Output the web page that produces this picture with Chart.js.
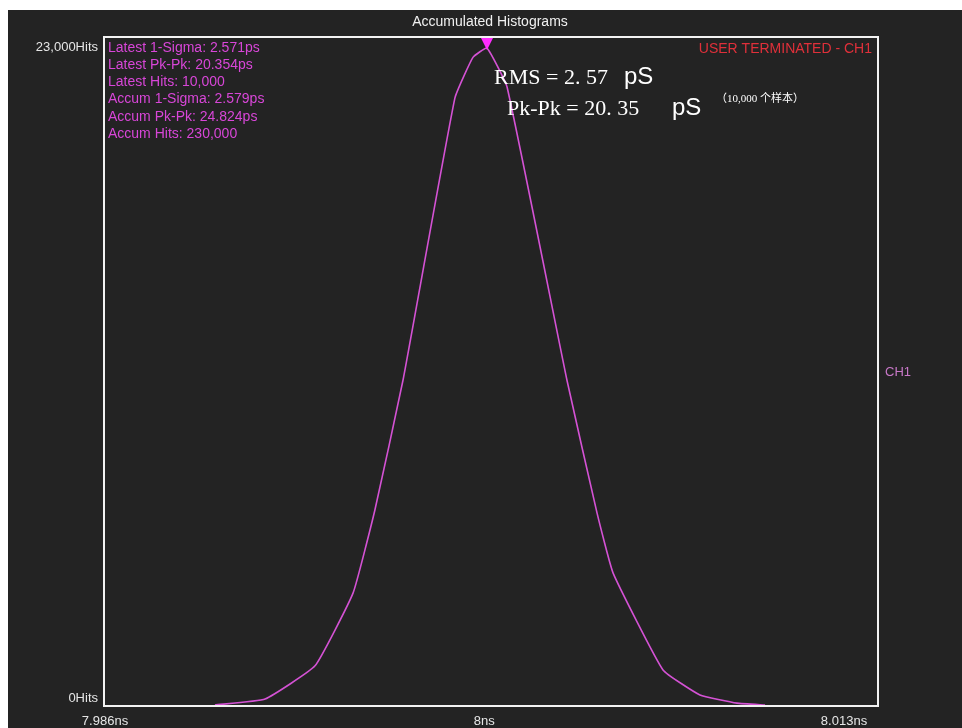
<!DOCTYPE html>
<html>
<head>
<meta charset="utf-8">
<script src="https://cdn.jsdelivr.net/npm/chart.js@4/dist/chart.umd.min.js"></script>
<style>
  html, body { margin: 0; padding: 0; background: #fff; }
  #wrap { width: 962px; height: 728px; position: relative; }
</style>
</head>
<body>
<div id="wrap"><canvas id="c"></canvas></div>
<script>
// histogram (time in ns, hits per bin)
const timeNs = [7.98987, 7.99162, 7.99336, 7.99469, 7.99545, 7.99643, 7.99824, 7.99887, 7.99936,
                8.00006, 8.00215, 8.00320, 8.00376, 8.00550, 8.00679, 8.00808, 8.00906];
const hits = [35, 240, 1380, 3890, 6740, 11200, 20900, 22300, 22620,
              21280, 11200, 6630, 4570, 1240, 380, 100, 35];

const xTickValues = [7.986, 8, 8.013];
const xTickLabels = ['7.986ns', '8ns', '8.013ns'];
const yTickValues = [0, 23000];
const yTickLabels = ['0Hits', '23,000Hits'];

const statLines = [
  'Latest 1-Sigma: 2.571ps',
  'Latest Pk-Pk: 20.354ps',
  'Latest Hits: 10,000',
  'Accum 1-Sigma: 2.579ps',
  'Accum Pk-Pk: 24.824ps',
  'Accum Hits: 230,000'
];

const BG = '#232323';
const SANS = "'Liberation Sans', Arial, sans-serif";
const SERIF = "'Liberation Serif', 'DejaVu Serif', serif";

// small nudges so the labels sit where the scope put them
const xLabelNudge = [1, -21, -34];
const yLabelNudge = [-8, 10];

const backdrop = {
  id: 'backdrop',
  beforeDraw(chart) {
    const ctx = chart.ctx;
    ctx.save();
    ctx.fillStyle = '#ffffff';
    ctx.fillRect(0, 0, chart.width, chart.height);
    ctx.fillStyle = BG;
    ctx.fillRect(8, 10, chart.width - 8, chart.height - 10);
    ctx.restore();
  }
};

const frame = {
  id: 'frame',
  afterDraw(chart) {
    const ctx = chart.ctx;
    const a = chart.chartArea;
    const xs = chart.scales.x, ys = chart.scales.y;
    ctx.save();
    ctx.strokeStyle = '#f2f2f2';
    ctx.lineWidth = 2;
    ctx.strokeRect(a.left, a.top, a.right - a.left, a.bottom - a.top);

    // tick labels
    ctx.fillStyle = '#e6e6e6';
    ctx.font = '13px ' + SANS;
    ctx.textBaseline = 'middle';
    ctx.textAlign = 'center';
    xTickValues.forEach((v, i) => {
      ctx.fillText(xTickLabels[i], xs.getPixelForValue(v) + xLabelNudge[i], a.bottom + 15);
    });
    ctx.textAlign = 'right';
    yTickValues.forEach((v, i) => {
      ctx.fillText(yTickLabels[i], a.left - 6, ys.getPixelForValue(v) + yLabelNudge[i]);
    });

    // title
    ctx.textAlign = 'center';
    ctx.font = '14px ' + SANS;
    ctx.fillStyle = '#f0f0f0';
    ctx.fillText('Accumulated Histograms', 490, 22);

    // stats block
    ctx.textAlign = 'left';
    ctx.font = '14px ' + SANS;
    ctx.fillStyle = '#d846d8';
    statLines.forEach((t, i) => ctx.fillText(t, a.left + 4, a.top + 11 + i * 17.2));

    ctx.textAlign = 'right';
    ctx.fillStyle = '#e0303a';
    ctx.fillText('USER TERMINATED - CH1', a.right - 6, a.top + 12);

    ctx.textAlign = 'left';
    ctx.font = '13px ' + SANS;
    ctx.fillStyle = '#c878c8';
    ctx.fillText('CH1', a.right + 7, 372);

    // peak marker
    let pk = 0;
    hits.forEach((h, i) => { if (h > hits[pk]) pk = i; });
    const px = xs.getPixelForValue(timeNs[pk]);
    ctx.fillStyle = '#ff2cff';
    ctx.beginPath();
    ctx.moveTo(px - 6, a.top + 1);
    ctx.lineTo(px + 6, a.top + 1);
    ctx.lineTo(px, a.top + 13);
    ctx.closePath();
    ctx.fill();

    // annotation
    ctx.fillStyle = '#ffffff';
    ctx.textBaseline = 'alphabetic';
    ctx.font = '22px ' + SERIF;
    ctx.fillText('RMS = 2. 57', 494, 84);
    ctx.font = '24px ' + SANS;
    ctx.fillText('pS', 624, 84);
    ctx.font = '22px ' + SERIF;
    ctx.fillText('Pk-Pk = 20. 35', 507, 115);
    ctx.font = '24px ' + SANS;
    ctx.fillText('pS', 672, 115);
    ctx.font = "11px 'Liberation Serif', 'Noto Sans CJK SC', serif";
    ctx.fillText('（10,000 个样本）', 716, 102);
    ctx.restore();
  }
};

new Chart(document.getElementById('c'), {
  type: 'line',
  data: {
    datasets: [{
      data: timeNs.map((t, i) => ({ x: t, y: hits[i] })),
      borderColor: '#d452d4',
      borderWidth: 1.6,
      pointRadius: 0,
      tension: 0.12,
      fill: false
    }]
  },
  options: {
    responsive: true,
    maintainAspectRatio: false,
    animation: false,
    events: [],
    layout: { padding: { top: 37, right: 84, left: 0, bottom: 0 } },
    plugins: { legend: { display: false }, tooltip: { enabled: false } },
    scales: {
      x: {
        type: 'linear', min: 7.986, max: 8.013,
        grid: { display: false }, border: { display: false },
        ticks: { display: false },
        afterFit: s => { s.height = 22; }
      },
      y: {
        min: 0, max: 23000,
        grid: { display: false }, border: { display: false },
        ticks: { display: false },
        afterFit: s => { s.width = 104; }
      }
    }
  },
  plugins: [backdrop, frame]
});
</script>
</body>
</html>
